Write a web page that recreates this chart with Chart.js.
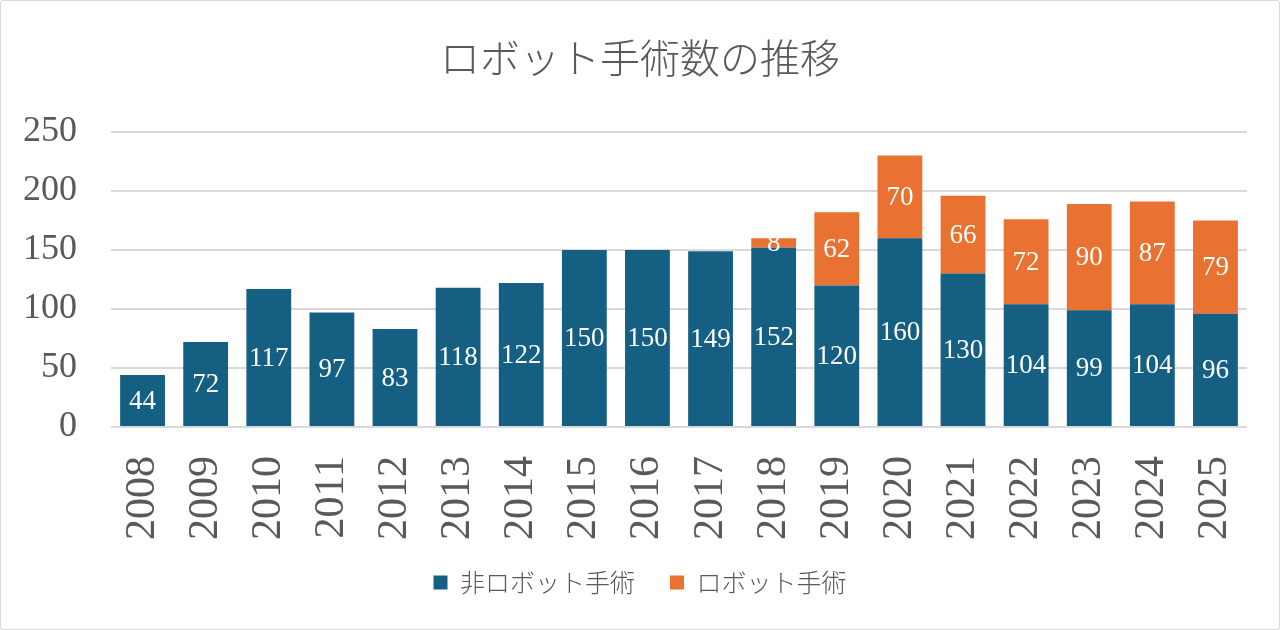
<!DOCTYPE html>
<html><head><meta charset="utf-8">
<script src="https://cdn.jsdelivr.net/npm/chart.js@4"></script>
<style>
html,body{margin:0;padding:0;background:#fff;}
#wrap{position:absolute;left:0;top:0;width:1278px;height:628px;border:1px solid #d9d9d9;border-radius:3px;}
canvas{display:block;}
</style></head>
<body><div id="wrap"><canvas id="c" width="1278" height="628"></canvas></div>
<script>
const years = ['2008','2009','2010','2011','2012','2013','2014','2015','2016','2017','2018','2019','2020','2021','2022','2023','2024','2025'];
const nonRobot = [44,72,117,97,83,118,122,150,150,149,152,120,160,130,104,99,104,96];
const robot = [null,null,null,null,null,null,null,null,null,null,8,62,70,66,72,90,87,79];
const yTicks = [0,50,100,150,200,250];

const serif = '"Liberation Serif","DejaVu Serif",serif';
const cjk = '"Noto Sans CJK JP","Noto Sans CJK SC",sans-serif';

const labelPlugin = {
  id:'barLabels',
  afterDatasetsDraw(chart){
    const ctx = chart.ctx;
    ctx.save();
    ctx.fillStyle = '#ffffff';
    ctx.font = '27px ' + serif;
    ctx.textAlign = 'center';
    ctx.textBaseline = 'middle';
    chart.data.datasets.forEach((ds, di) => {
      const meta = chart.getDatasetMeta(di);
      meta.data.forEach((el, i) => {
        const v = ds.data[i];
        if (v === null || v === undefined) return;
        const p = el.getProps(['x','y','base'], true);
        ctx.fillText(String(v), p.x, (p.y + p.base) / 2 + 1);
      });
    });
    ctx.restore();
  }
};

new Chart(document.getElementById('c'), {
  type:'bar',
  data:{
    labels: years,
    datasets:[
      {label:'非ロボット手術', data: nonRobot, backgroundColor:'#156082', categoryPercentage:1, barPercentage:0.71},
      {label:'ロボット手術', data: robot, backgroundColor:'#E97132', categoryPercentage:1, barPercentage:0.71}
    ]
  },
  options:{
    responsive:false,
    animation:false,
    layout:{padding:{left:0,right:0,top:0,bottom:24}},
    plugins:{
      tooltip:{enabled:false},
      title:{display:true, text:'ロボット手術数の推移', color:'#595959',
        font:{family:cjk, size:40, weight:300}, padding:{top:33,bottom:50}},
      legend:{position:'bottom',
        labels:{color:'#595959', font:{family:cjk, size:25, weight:300}, boxWidth:14, boxHeight:14, padding:10,
          generateLabels(chart){
            const items = Chart.defaults.plugins.legend.labels.generateLabels(chart);
            if (items.length) items[0].text = items[0].text + '　';
            return items;
          }}}
    },
    scales:{
      x:{stacked:true,
        grid:{display:false, drawTicks:false},
        border:{display:false},
        ticks:{color:'#595959', font:{family:serif, size:42}, minRotation:90, maxRotation:90, padding:29, autoSkip:false},
        afterFit(s){ s.height = 133; s.paddingLeft = 0; s.paddingRight = 32; }
      },
      y:{stacked:true, min:0, max:250,
        afterBuildTicks(s){ s.ticks = yTicks.map(v=>({value:v})); },
        grid:{color:'#d9d9d9', lineWidth:2, drawTicks:false},
        border:{display:false},
        ticks:{color:'#595959', font:{family:serif, size:36}, padding:34},
        afterFit(s){ s.width = 110; s.paddingTop = 0; s.paddingBottom = 0; }
      }
    }
  },
  plugins:[labelPlugin]
});
</script></body></html>
